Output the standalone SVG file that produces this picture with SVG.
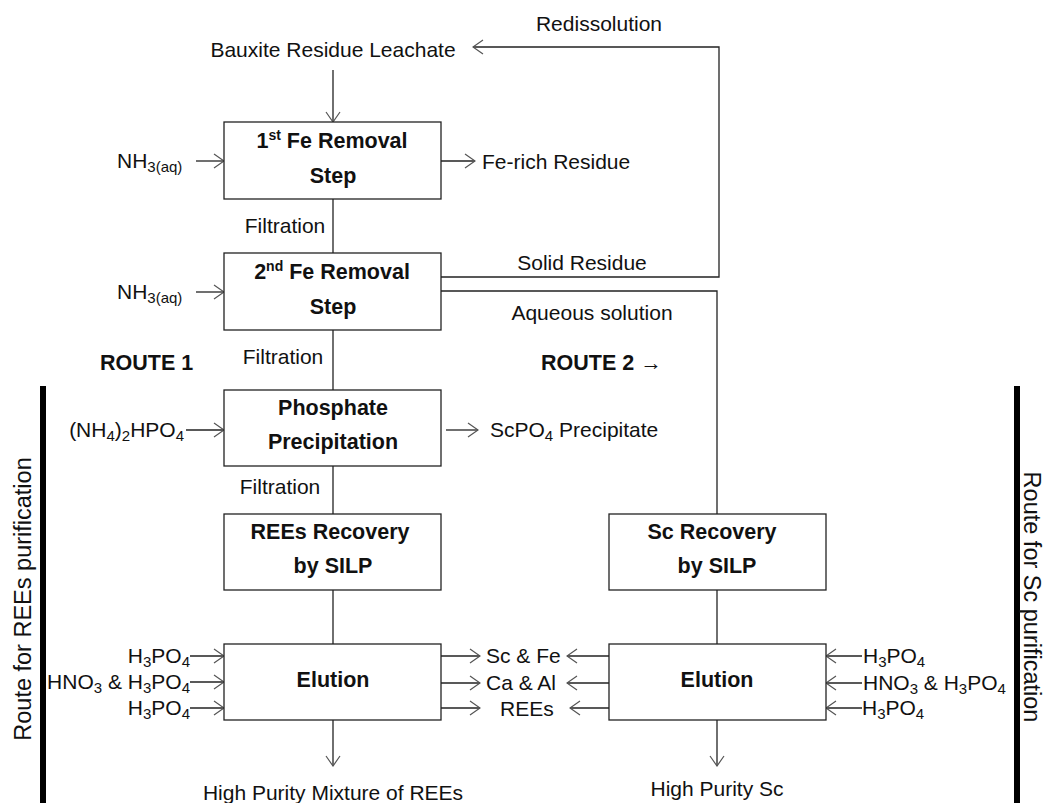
<svg xmlns="http://www.w3.org/2000/svg" width="1043" height="803" viewBox="0 0 1043 803">
<style>
  text { font-family: "Liberation Sans", Arial, sans-serif; font-size: 21px; fill: #111; }
  .b { font-weight: bold; font-size: 21.5px; }
  .s { font-size: 15px; }
  .sup { font-size: 14px; }
  .side { font-size: 23.5px; }
  .box { fill: #fff; stroke: #222; stroke-width: 1.3; }
  .ln { fill: none; stroke: #222; stroke-width: 1.3; }
  .bar { fill: #000; }
</style>
<defs>
  <marker id="arr" viewBox="0 0 12 16" refX="11" refY="8" markerWidth="12" markerHeight="16" markerUnits="userSpaceOnUse" orient="auto">
    <polyline points="1,1 11,8 1,15" fill="none" stroke="#555" stroke-width="1.2"/>
  </marker>
</defs>
<rect width="1043" height="803" fill="#fff"/>

<!-- side bars and route captions -->
<rect class="bar" x="40" y="386" width="6" height="417"/>
<rect class="bar" x="1014" y="386" width="6" height="417"/>
<text class="side" transform="translate(31,599) rotate(-90)" text-anchor="middle">Route for REEs purification</text>
<text class="side" transform="translate(1024,597) rotate(90)" text-anchor="middle">Route for Sc purification</text>

<!-- connectors -->
<g id="connectors">
  <line class="ln" x1="333" y1="70" x2="333" y2="122" marker-end="url(#arr)"/>
  <line class="ln" x1="333" y1="199" x2="333" y2="253"/>
  <line class="ln" x1="333" y1="330" x2="333" y2="390"/>
  <line class="ln" x1="333" y1="466" x2="333" y2="514"/>
  <line class="ln" x1="333" y1="590" x2="333" y2="644"/>
  <line class="ln" x1="333" y1="720" x2="333" y2="766" marker-end="url(#arr)"/>
  <polyline class="ln" points="441,277 719,277 719,47 473,47" marker-end="url(#arr)"/>
  <polyline class="ln" points="441,291 717,291 717,514"/>
  <line class="ln" x1="717" y1="590" x2="717" y2="644"/>
  <line class="ln" x1="717" y1="720" x2="717" y2="766" marker-end="url(#arr)"/>
  <line class="ln" x1="196" y1="161" x2="224" y2="161" marker-end="url(#arr)"/>
  <line class="ln" x1="441" y1="161" x2="475" y2="161" marker-end="url(#arr)"/>
  <line class="ln" x1="196" y1="292" x2="224" y2="292" marker-end="url(#arr)"/>
  <line class="ln" x1="186" y1="430" x2="224" y2="430" marker-end="url(#arr)"/>
  <line class="ln" x1="446" y1="430" x2="478" y2="430" marker-end="url(#arr)"/>
  <line class="ln" x1="190" y1="656" x2="224" y2="656" marker-end="url(#arr)"/>
  <line class="ln" x1="190" y1="682" x2="224" y2="682" marker-end="url(#arr)"/>
  <line class="ln" x1="190" y1="708" x2="224" y2="708" marker-end="url(#arr)"/>
  <line class="ln" x1="441" y1="656" x2="480" y2="656" marker-end="url(#arr)"/>
  <line class="ln" x1="441" y1="683" x2="480" y2="683" marker-end="url(#arr)"/>
  <line class="ln" x1="441" y1="708" x2="480" y2="708" marker-end="url(#arr)"/>
  <line class="ln" x1="609" y1="656" x2="567" y2="656" marker-end="url(#arr)"/>
  <line class="ln" x1="609" y1="683" x2="567" y2="683" marker-end="url(#arr)"/>
  <line class="ln" x1="609" y1="708" x2="570" y2="708" marker-end="url(#arr)"/>
  <line class="ln" x1="862" y1="656" x2="826" y2="656" marker-end="url(#arr)"/>
  <line class="ln" x1="862" y1="683" x2="826" y2="683" marker-end="url(#arr)"/>
  <line class="ln" x1="862" y1="708" x2="826" y2="708" marker-end="url(#arr)"/>
</g>

<!-- labels along the flow -->
<text x="333" y="57" text-anchor="middle">Bauxite Residue Leachate</text>
<text x="599" y="31" text-anchor="middle">Redissolution</text>
<text x="482" y="169">Fe-rich Residue</text>
<text x="117" y="168">NH<tspan class="s" dy="4">3(aq)</tspan></text>
<text x="117" y="299">NH<tspan class="s" dy="4">3(aq)</tspan></text>
<text x="285" y="233" text-anchor="middle">Filtration</text>
<text x="283" y="364" text-anchor="middle">Filtration</text>
<text x="280" y="494" text-anchor="middle">Filtration</text>
<text x="582" y="270" text-anchor="middle">Solid Residue</text>
<text x="592" y="320" text-anchor="middle">Aqueous solution</text>
<text class="b" x="100" y="370">ROUTE 1</text>
<text class="b" x="541" y="370">ROUTE 2 →</text>
<text x="184" y="437" text-anchor="end">(NH<tspan class="s" dy="4">4</tspan><tspan dy="-4">)</tspan><tspan class="s" dy="4">2</tspan><tspan dy="-4">HPO</tspan><tspan class="s" dy="4">4</tspan></text>
<text x="490" y="437">ScPO<tspan class="s" dy="4">4</tspan><tspan dy="-4"> Precipitate</tspan></text>

<text x="190" y="663" text-anchor="end">H<tspan class="s" dy="4">3</tspan><tspan dy="-4">PO</tspan><tspan class="s" dy="4">4</tspan></text>
<text x="190" y="689" text-anchor="end">HNO<tspan class="s" dy="4">3</tspan><tspan dy="-4"> &amp; H</tspan><tspan class="s" dy="4">3</tspan><tspan dy="-4">PO</tspan><tspan class="s" dy="4">4</tspan></text>
<text x="190" y="715" text-anchor="end">H<tspan class="s" dy="4">3</tspan><tspan dy="-4">PO</tspan><tspan class="s" dy="4">4</tspan></text>

<text x="486" y="663">Sc &amp; Fe</text>
<text x="486" y="690">Ca &amp; Al</text>
<text x="500" y="716">REEs</text>

<text x="863" y="663">H<tspan class="s" dy="4">3</tspan><tspan dy="-4">PO</tspan><tspan class="s" dy="4">4</tspan></text>
<text x="863" y="690">HNO<tspan class="s" dy="4">3</tspan><tspan dy="-4"> &amp; H</tspan><tspan class="s" dy="4">3</tspan><tspan dy="-4">PO</tspan><tspan class="s" dy="4">4</tspan></text>
<text x="862" y="715">H<tspan class="s" dy="4">3</tspan><tspan dy="-4">PO</tspan><tspan class="s" dy="4">4</tspan></text>

<text x="333" y="800" text-anchor="middle">High Purity Mixture of REEs</text>
<text x="717" y="796" text-anchor="middle">High Purity Sc</text>

<!-- process steps -->
<g id="fe1">
  <rect class="box" x="224" y="122" width="217" height="77"/>
  <text class="b" x="332" y="148" text-anchor="middle">1<tspan class="sup" dy="-8">st</tspan><tspan dy="8"> Fe Removal</tspan></text>
  <text class="b" x="333" y="183" text-anchor="middle">Step</text>
</g>
<g id="fe2">
  <rect class="box" x="224" y="253" width="217" height="77"/>
  <text class="b" x="332" y="279" text-anchor="middle">2<tspan class="sup" dy="-8">nd</tspan><tspan dy="8"> Fe Removal</tspan></text>
  <text class="b" x="333" y="314" text-anchor="middle">Step</text>
</g>
<g id="phosphate">
  <rect class="box" x="224" y="390" width="217" height="76"/>
  <text class="b" x="333" y="415" text-anchor="middle">Phosphate</text>
  <text class="b" x="333" y="449" text-anchor="middle">Precipitation</text>
</g>
<g id="rees-silp">
  <rect class="box" x="224" y="514" width="217" height="76"/>
  <text class="b" x="330" y="539" text-anchor="middle">REEs Recovery</text>
  <text class="b" x="333" y="573" text-anchor="middle">by SILP</text>
</g>
<g id="elution-rees">
  <rect class="box" x="224" y="644" width="217" height="76"/>
  <text class="b" x="333" y="687" text-anchor="middle">Elution</text>
</g>
<g id="sc-silp">
  <rect class="box" x="609" y="514" width="217" height="76"/>
  <text class="b" x="712" y="539" text-anchor="middle">Sc Recovery</text>
  <text class="b" x="717" y="573" text-anchor="middle">by SILP</text>
</g>
<g id="elution-sc">
  <rect class="box" x="609" y="644" width="217" height="76"/>
  <text class="b" x="717" y="687" text-anchor="middle">Elution</text>
</g>
</svg>
